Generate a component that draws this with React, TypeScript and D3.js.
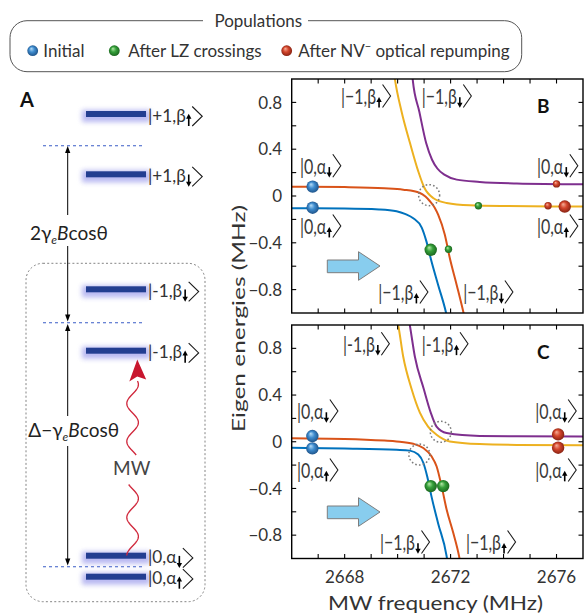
import React, { useLayoutEffect, useRef, useState } from "react";
import * as d3 from "d3";

type Pt = [number, number];
type Dot = [number, number, number];

const FONT = "Lato, 'Open Sans', sans-serif";

// ---- axes ----
const freqDomain: Pt = [2666, 2677];
const energyDomain: Pt = [-1, 1];
const xTickLabels = [2668, 2672, 2676];
const yTickLabels = [0.8, 0.4, 0, -0.4, -0.8];

// ---- panel B eigen-energies [MHz, MHz] ----
const bBlue: Pt[] = [[2666, -0.105], [2668, -0.107], [2669.3, -0.115], [2669.96, -0.13], [2670.3, -0.155], [2670.59, -0.19], [2670.91, -0.27], [2671.09, -0.39], [2671.28, -0.56], [2671.53, -0.76], [2671.82, -0.99], [2671.87, -1.04]];
const bOrange: Pt[] = [[2666, 0.08], [2668, 0.076], [2669.5, 0.066], [2670.21, 0.054], [2670.84, 0.026], [2671.05, -0.005], [2671.22, -0.045], [2671.4, -0.1], [2671.53, -0.16], [2671.78, -0.33], [2671.97, -0.53], [2672.23, -0.76], [2672.48, -0.99], [2672.53, -1.04]];
const bYellow: Pt[] = [[2669.87, 1.04], [2669.9, 0.994], [2670.15, 0.72], [2670.47, 0.45], [2670.78, 0.21], [2671.0, 0.075], [2671.34, -0.017], [2671.85, -0.06], [2672.73, -0.08], [2674, -0.086], [2677, -0.09]];
const bPurple: Pt[] = [[2670.55, 1.04], [2670.57, 0.994], [2670.82, 0.72], [2671.08, 0.45], [2671.3, 0.31], [2671.5, 0.235], [2671.78, 0.18], [2672.23, 0.14], [2673.1, 0.12], [2674.5, 0.107], [2677, 0.1]];

// ---- panel C eigen-energies ----
const cBlue: Pt[] = [[2666, -0.052], [2668, -0.058], [2669.96, -0.069], [2670.46, -0.076], [2670.78, -0.11], [2670.97, -0.18], [2671.12, -0.3], [2671.28, -0.47], [2671.53, -0.7], [2671.85, -0.98], [2671.89, -1.04]];
const cOrange: Pt[] = [[2666, 0.03], [2668, 0.024], [2669.5, 0.01], [2669.96, 0.003], [2670.59, -0.017], [2670.97, -0.054], [2671.28, -0.125], [2671.47, -0.21], [2671.66, -0.38], [2671.85, -0.58], [2672.1, -0.78], [2672.32, -0.98], [2672.37, -1.04]];
const cYellow: Pt[] = [[2669.98, 1.04], [2670.02, 1.0], [2670.21, 0.73], [2670.53, 0.45], [2670.84, 0.25], [2671.15, 0.13], [2671.47, 0.06], [2671.97, 0.003], [2673.1, -0.02], [2674.5, -0.027], [2677, -0.03]];
const cPurple: Pt[] = [[2670.43, 1.04], [2670.46, 1.0], [2670.65, 0.73], [2670.99, 0.45], [2671.25, 0.25], [2671.47, 0.13], [2671.85, 0.075], [2673.1, 0.05], [2674.5, 0.047], [2677, 0.045]];

// ---- populations [MHz, MHz, relative weight] ----
const bInitial: Dot[] = [[2666.79, 0.08, 1], [2666.79, -0.1, 1]];
const bLZ: Dot[] = [[2671.25, -0.46, 1], [2671.92, -0.455, 0.35], [2673.05, -0.083, 0.35]];
const bRepump: Dot[] = [[2676.0, 0.103, 0.35], [2675.68, -0.083, 0.35], [2676.31, -0.09, 1]];
const cInitial: Dot[] = [[2666.78, 0.049, 1], [2666.78, -0.057, 1]];
const cLZ: Dot[] = [[2671.25, -0.38, 1], [2671.72, -0.38, 1]];
const cRepump: Dot[] = [[2676.06, 0.063, 1], [2676.06, -0.051, 1]];

// ---- level crossings (dotted circles) ----
const bCrossings: Pt[] = [[2671.19, 0.007]];
const cCrossings: Pt[] = [[2670.82, -0.11], [2671.63, 0.085]];

// ---- state labels: [text, spin arrow, freq, energy] ----
type KetSpec = [string, "up" | "down", number, number];
const bKets: KetSpec[] = [
  ["|\u22121,\u03b2", "up", 2667.86, 0.786],
  ["|\u22121,\u03b2", "down", 2670.91, 0.786],
  ["|0,\u03b1", "down", 2666.31, 0.19],
  ["|0,\u03b1", "up", 2666.31, -0.325],
  ["|0,\u03b1", "down", 2675.26, 0.19],
  ["|0,\u03b1", "up", 2675.26, -0.325],
  ["|\u22121,\u03b2", "up", 2669.27, -0.889],
  ["|\u22121,\u03b2", "down", 2672.48, -0.889],
];
const cKets: KetSpec[] = [
  ["|-1,\u03b2", "down", 2667.94, 0.771],
  ["|-1,\u03b2", "up", 2670.91, 0.771],
  ["|0,\u03b1", "down", 2666.2, 0.195],
  ["|0,\u03b1", "up", 2666.2, -0.31],
  ["|0,\u03b1", "down", 2675.2, 0.195],
  ["|0,\u03b1", "up", 2675.2, -0.31],
  ["|\u22121,\u03b2", "down", 2669.33, -0.927],
  ["|\u22121,\u03b2", "up", 2672.58, -0.927],
];

// ---- panel A energy levels ----
const levelNames = ["|+1,\u03b2", "|+1,\u03b2", "|-1,\u03b2", "|-1,\u03b2", "|0,\u03b1", "|0,\u03b1"];
const levelSpins: ("up" | "down")[] = ["up", "down", "down", "up", "down", "up"];
const levelY = [114, 174.3, 289.3, 350.7, 555.7, 576.7];

// ---- legend ----
const legendLabels = ["Initial", "After LZ crossings", "After NV"];
const legendKeys = ["blue", "green", "red"];

const lineColors: Record<string, string> = { blue: "#0072BD", orange: "#D95319", yellow: "#EDB120", purple: "#7E2F8E" };

const X0 = 291.7, X1 = 583;
const xScale = d3.scaleLinear().domain(freqDomain).range([X0, X1]);
const rScale = d3.scaleSqrt().domain([0, 1]).range([0, 6.2]);

function Ket({ x, y, head, spin, fs, vs, bt, bb, bw, at, ab, color }: any) {
  const ref = useRef<SVGTextElement>(null);
  const [w, setW] = useState(0);
  useLayoutEffect(() => {
    if (ref.current) setW(ref.current.getComputedTextLength());
  }, [head, fs]);
  const cx = x + w + 3;
  const bx = x + w + 6.5;
  const top = y - at, bot = y + ab;
  const arrow =
    spin === "up"
      ? { line: `M${cx},${top + 3.5}L${cx},${bot}`, head: `M${cx - 2.7},${top + 4.6}L${cx + 2.7},${top + 4.6}L${cx},${top - 0.4}Z` }
      : { line: `M${cx},${top}L${cx},${bot - 3.5}`, head: `M${cx - 2.7},${bot - 4.6}L${cx + 2.7},${bot - 4.6}L${cx},${bot + 0.4}Z` };
  return (
    <g>
      <text ref={ref} transform={`translate(${x},${y}) scale(1,${vs})`} fontSize={fs} fill={color} fontFamily={FONT}>
        {head}
      </text>
      {w > 0 && (
        <g>
          <path d={arrow.line} stroke="#000" strokeWidth={1.6} fill="none" />
          <path d={arrow.head} fill="#000" />
          <path d={`M${bx},${y - bt}L${bx + bw},${(y - bt + y + bb) / 2}L${bx},${y + bb}`} fill="none" stroke="#1a1a1a" strokeWidth={1.1} />
        </g>
      )}
    </g>
  );
}

function Sphere({ cx, cy, r, color }: any) {
  return <circle cx={cx} cy={cy} r={r} fill={`url(#sph-${color})`} />;
}

function Panel({ id, top, bottom, curves, initial, lz, repump, crossings, kets, label, xLabels }: any) {
  const y = d3.scaleLinear().domain(energyDomain).range([bottom, top]);
  const line = d3
    .line<Pt>()
    .x((d) => xScale(d[0]))
    .y((d) => y(d[1]))
    .curve(d3.curveMonotoneX);
  const yTicks = y.ticks(10).filter((t) => t > -1 && t < 1);
  const xTicks = xScale.ticks(11).filter((t) => t > freqDomain[0] && t < freqDomain[1]);
  const tl = 4.5;
  const at = top + 187; // sweep arrow vertical reference
  return (
    <g>
      <defs>
        <clipPath id={`clip-${id}`}>
          <rect x={X0} y={top} width={X1 - X0} height={bottom - top} />
        </clipPath>
      </defs>
      <g clipPath={`url(#clip-${id})`}>
        {curves.map((c: any, i: number) => (
          <path key={i} d={line(c.pts) || ""} fill="none" stroke={lineColors[c.color]} strokeWidth={2} />
        ))}
      </g>
      {crossings.map((c: Pt, i: number) => (
        <circle key={i} cx={xScale(c[0])} cy={y(c[1])} r={10.5} fill="none" stroke="#7a7a7a" strokeWidth={1.5} strokeDasharray="1.6 2.2" />
      ))}
      {initial.map((d: Dot, i: number) => <Sphere key={"i" + i} cx={xScale(d[0])} cy={y(d[1])} r={rScale(d[2])} color="blue" />)}
      {lz.map((d: Dot, i: number) => <Sphere key={"l" + i} cx={xScale(d[0])} cy={y(d[1])} r={rScale(d[2])} color="green" />)}
      {repump.map((d: Dot, i: number) => <Sphere key={"r" + i} cx={xScale(d[0])} cy={y(d[1])} r={rScale(d[2])} color="red" />)}
      {kets.map((k: KetSpec, i: number) => (
        <Ket key={i} x={xScale(k[2])} y={y(k[3])} head={k[0]} spin={k[1]} fs={16} vs={1.28} bt={19.5} bb={3.5} bw={8} at={6.7} ab={3.4} color="#3a3a3a" />
      ))}
      {/* sweep direction arrow */}
      <path
        d={`M327.3,${at - 6}L358.5,${at - 6}L358.5,${at - 14.3}L380,${at}L358.5,${at + 14.3}L358.5,${at + 6.7}L327.3,${at + 6.7}Z`}
        fill="#88cdee"
        stroke="#7d7d7d"
        strokeWidth={1}
      />
      {/* frame */}
      <rect x={X0} y={top} width={X1 - X0} height={bottom - top} fill="none" stroke="#000" strokeWidth={1.4} />
      {yTicks.map((t, i) => (
        <g key={"yt" + i}>
          <line x1={X0} x2={X0 + tl} y1={y(t)} y2={y(t)} stroke="#000" strokeWidth={1.1} />
          <line x1={X1 - tl} x2={X1} y1={y(t)} y2={y(t)} stroke="#000" strokeWidth={1.1} />
        </g>
      ))}
      {xTicks.map((t, i) => (
        <g key={"xt" + i}>
          <line x1={xScale(t)} x2={xScale(t)} y1={top} y2={top + tl} stroke="#000" strokeWidth={1.1} />
          <line x1={xScale(t)} x2={xScale(t)} y1={bottom - tl} y2={bottom} stroke="#000" strokeWidth={1.1} />
        </g>
      ))}
      {yTickLabels.map((t, i) => (
        <text key={"yl" + i} x={282} y={y(t)} dy="0.36em" textAnchor="end" fontSize={17} fill="#333" fontFamily={FONT}>
          {t === 0 ? "0" : d3.format(".1f")(t).replace("-", "\u2212")}
        </text>
      ))}
      {xLabels &&
        xTickLabels.map((t, i) => (
          <text key={"xl" + i} x={xScale(t)} y={bottom + 24} textAnchor="middle" fontSize={17} fill="#333" fontFamily={FONT}>
            {t}
          </text>
        ))}
      <text x={537} y={top + 34} fontSize={19} fontWeight="bold" fill="#111" fontFamily={FONT}>
        {label}
      </text>
    </g>
  );
}

function wave(y0: number, y1: number) {
  const cx = 132.6, A = 5.8, lam = 38;
  const pts: Pt[] = [];
  for (let yy = y0; yy >= y1; yy -= 1) {
    pts.push([cx - A * Math.cos((2 * Math.PI * (555.5 - yy)) / lam), yy]);
  }
  return d3.line()(pts as any) || "";
}

function PanelA() {
  const arrowHead = (xx: number, tip: number, dir: number) =>
    `M${xx},${tip}L${xx - 2.6},${tip + dir * 7}L${xx + 2.6},${tip + dir * 7}Z`;
  const ax = 67.7;
  return (
    <g>
      <text x={20} y={107} fontSize={20} fontWeight="bold" fill="#111" fontFamily={FONT}>A</text>
      <defs>
        <filter id="glow" x="-30%" y="-200%" width="160%" height="500%">
          <feGaussianBlur stdDeviation="2.6" />
        </filter>
      </defs>
      <rect x={26} y={263.3} width={179} height={338.4} rx={17} fill="none" stroke="#777" strokeWidth={0.9} strokeDasharray="2 2.2" />
      {[145.7, 322.7, 566.7].map((yy, i) => (
        <line key={i} x1={43} x2={143} y1={yy} y2={yy} stroke="#3a5cc6" strokeWidth={1.1} strokeDasharray="3 3" />
      ))}
      {levelY.map((yy, i) => (
        <g key={i}>
          <rect x={82} y={yy - 4} width={68} height={12} fill="#7f7fe6" opacity={0.55} filter="url(#glow)" />
          <rect x={86} y={yy - 3} width={60} height={6} fill="#233e91" />
          <Ket x={148} y={yy + 7.5} head={levelNames[i]} spin={levelSpins[i]} fs={17.2} vs={1.0} bt={15} bb={4.5} bw={10} at={7.3} ab={4.5} color="#333" />
        </g>
      ))}
      {/* splitting arrows */}
      <line x1={ax} x2={ax} y1={150} y2={215} stroke="#000" strokeWidth={1} />
      <line x1={ax} x2={ax} y1={246} y2={317} stroke="#000" strokeWidth={1} />
      <path d={arrowHead(ax, 146, 1)} fill="#000" />
      <path d={arrowHead(ax, 321.5, -1)} fill="#000" />
      <line x1={ax} x2={ax} y1={328} y2={416} stroke="#000" strokeWidth={1} />
      <line x1={ax} x2={ax} y1={446} y2={561} stroke="#000" strokeWidth={1} />
      <path d={arrowHead(ax, 324, 1)} fill="#000" />
      <path d={arrowHead(ax, 565.5, -1)} fill="#000" />
      <text x={30} y={240} fontSize={19} fill="#222" fontFamily={FONT}>
        2γ<tspan fontSize={12} fontStyle="italic" dy={4}>e</tspan>
        <tspan fontStyle="italic" dy={-4}>B</tspan>cosθ
      </text>
      <text x={28.3} y={437} fontSize={19} fill="#222" fontFamily={FONT}>
        Δ−γ<tspan fontSize={12} fontStyle="italic" dy={4}>e</tspan>
        <tspan fontStyle="italic" dy={-4}>B</tspan>cosθ
      </text>
      {/* MW drive */}
      <path d={wave(555.5, 484)} fill="none" stroke="#d0283c" strokeWidth={1.3} />
      <path d={wave(455, 381)} fill="none" stroke="#d0283c" strokeWidth={1.3} />
      <path d="M137.3,359.5L129.3,381.5L137.2,376.5L146.2,379.5Z" fill="#c8162e" />
      <text x={131.7} y={475} textAnchor="middle" fontSize={19} fill="#444" fontFamily={FONT}>MW</text>
    </g>
  );
}

function Legend() {
  const dotX = [32.7, 114.3, 286.7];
  const textX = [43.3, 128.3, 298.3];
  return (
    <g>
      <rect x={10} y={20.7} width={511.7} height={51} rx={17} fill="none" stroke="#555" strokeWidth={1} />
      <rect x={203} y={15} width={105} height={10} fill="#fff" />
      <text x={258.3} y={27} textAnchor="middle" fontSize={17} fill="#333" fontFamily={FONT}>Populations</text>
      {legendKeys.map((k, i) => (
        <g key={k}>
          <Sphere cx={dotX[i]} cy={50.7} r={5.4} color={k} />
          <text x={textX[i]} y={56.5} fontSize={17} fill="#333" fontFamily={FONT}>
            {legendLabels[i]}
            {i === 2 && (
              <>
                <tspan fontSize={11} dy={-7}>−</tspan>
                <tspan dy={7}> optical repumping</tspan>
              </>
            )}
          </text>
        </g>
      ))}
    </g>
  );
}

const sphereColors: Record<string, string[]> = {
  blue: ["#b7ddf7", "#3e8ccf", "#1b4c80"],
  green: ["#b6e8a8", "#35a03a", "#185f1b"],
  red: ["#f6b09a", "#d4462c", "#7e1e10"],
};

export default function App() {
  return (
    <svg width={584} height={615} style={{ position: "absolute", left: 0, top: 0, background: "#fff" }} fontFamily={FONT}>
      <defs>
        {Object.entries(sphereColors).map(([k, c]) => (
          <radialGradient key={k} id={`sph-${k}`} cx="0.5" cy="0.5" r="0.55" fx="0.36" fy="0.3">
            <stop offset="0" stopColor={c[0]} />
            <stop offset="0.45" stopColor={c[1]} />
            <stop offset="1" stopColor={c[2]} />
          </radialGradient>
        ))}
      </defs>
      <rect width={584} height={615} fill="#fff" />
      <Legend />
      <PanelA />
      <Panel
        id="B"
        top={79}
        bottom={313}
        curves={[
          { pts: bBlue, color: "blue" },
          { pts: bOrange, color: "orange" },
          { pts: bYellow, color: "yellow" },
          { pts: bPurple, color: "purple" },
        ]}
        initial={bInitial}
        lz={bLZ}
        repump={bRepump}
        crossings={bCrossings}
        kets={bKets}
        label="B"
        xLabels={false}
      />
      <Panel
        id="C"
        top={325}
        bottom={558.5}
        curves={[
          { pts: cBlue, color: "blue" },
          { pts: cOrange, color: "orange" },
          { pts: cYellow, color: "yellow" },
          { pts: cPurple, color: "purple" },
        ]}
        initial={cInitial}
        lz={cLZ}
        repump={cRepump}
        crossings={cCrossings}
        kets={cKets}
        label="C"
        xLabels={true}
      />
      <text transform="translate(245,318.5) rotate(-90)" textAnchor="middle" fontSize={17} fill="#333" textLength={227} lengthAdjust="spacingAndGlyphs">
        Eigen energies (MHz)
      </text>
      <text x={435.5} y={609.5} textAnchor="middle" fontSize={20} fill="#333" textLength={215} lengthAdjust="spacingAndGlyphs">
        MW frequency (MHz)
      </text>
    </svg>
  );
}
